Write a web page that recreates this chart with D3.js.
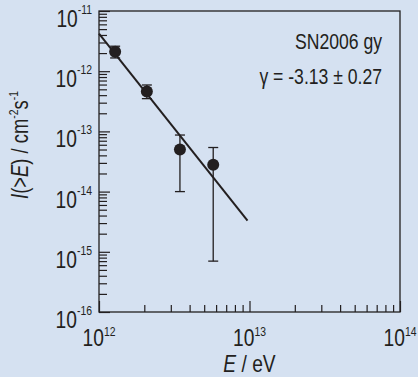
<!DOCTYPE html>
<html>
<head>
<meta charset="utf-8">
<script src="https://cdn.jsdelivr.net/npm/d3@7"></script>
<style>
  body { margin: 0; background: #d5e1f1; }
  svg { display: block; }
  text { font-family: "Liberation Sans", Arial, sans-serif; fill: #231f20; }
</style>
</head>
<body>
<div class="chart"></div>
<script>
// measured points (E in eV, integral flux I(>E) in cm^-2 s^-1)
var energy = [1.28e12, 2.08e12, 3.45e12, 5.74e12];
var flux = [2.1e-12, 4.6e-13, 5.0e-14, 2.8e-14];
var fluxLow = [1.66e-12, 3.5e-13, 1.0e-14, 7.0e-16];
var fluxHigh = [2.6e-12, 5.9e-13, 8.7e-14, 5.4e-14];

// power-law fit end points
var fitEnergy = [1e12, 9.7e12];
var fitFlux = [4.2e-12, 3.3e-15];

// tick labels (exponents of 10)
var xExponents = [12, 13, 14];
var yExponents = [-11, -12, -13, -14, -15, -16];

var annotation = ["SN2006 gy", "\u03b3 = -3.13 \u00b1 0.27"];

var svgWidth = 418;
var svgHeight = 377;

var margin = { top: 11, right: 18, bottom: 65, left: 99 };
var width = svgWidth - margin.left - margin.right;
var height = svgHeight - margin.top - margin.bottom;

// condensed look: squeeze Liberation Sans horizontally
var squeeze = 0.8;
function place(x, y) {
  return `translate(${x}, ${y}) scale(${squeeze}, 1)`;
}

var svg = d3.select(".chart")
  .append("svg")
  .attr("width", svgWidth)
  .attr("height", svgHeight);

var chartGroup = svg.append("g")
  .attr("transform", `translate(${margin.left}, ${margin.top})`);

var xScale = d3.scaleLog()
  .domain([1e12, 1e14])
  .range([0, width]);

var yScale = d3.scaleLog()
  .domain([1e-16, 1e-11])
  .range([height, 0]);

var points = energy.map((e, i) => ({ e: e, f: flux[i], lo: fluxLow[i], hi: fluxHigh[i] }));

// minor / major tick values
function minorTicks(lo, hi) {
  var out = [];
  for (var p = lo; p < hi; p++) {
    for (var m = 2; m <= 9; m++) out.push(m * Math.pow(10, p));
  }
  return out;
}
var xMajor = xExponents.map(p => Math.pow(10, p));
var yMajor = yExponents.map(p => Math.pow(10, p));

// frame
chartGroup.append("rect")
  .attr("width", width)
  .attr("height", height)
  .attr("fill", "none")
  .attr("stroke", "#231f20")
  .attr("stroke-width", 1.3);

// ticks pointing inward
function drawAxis(axis) {
  return function(g) {
    g.call(axis);
    g.select(".domain").remove();
    g.selectAll("line").attr("stroke", "#231f20").attr("stroke-width", 1.2);
    g.selectAll("text").remove();
  };
}

chartGroup.append("g")
  .attr("transform", `translate(0, ${height})`)
  .call(drawAxis(d3.axisBottom(xScale).tickValues(minorTicks(12, 14)).tickSize(-7)));
chartGroup.append("g")
  .attr("transform", `translate(0, ${height})`)
  .call(drawAxis(d3.axisBottom(xScale).tickValues(xMajor).tickSize(-11)));
chartGroup.append("g")
  .call(drawAxis(d3.axisLeft(yScale).tickValues(minorTicks(-16, -11)).tickSize(-8)));
chartGroup.append("g")
  .call(drawAxis(d3.axisLeft(yScale).tickValues(yMajor).tickSize(-11)));

// x tick labels
var xLabels = chartGroup.selectAll(".xlab")
  .data(xExponents)
  .enter()
  .append("text")
  .attr("class", "xlab")
  .attr("transform", d => place(xScale(Math.pow(10, d)), height + 34))
  .attr("text-anchor", "middle")
  .style("font-size", "24px");
xLabels.append("tspan").text("10");
xLabels.append("tspan")
  .attr("dy", -10)
  .style("font-size", "13px")
  .text(d => d);

// y tick labels
var yLabels = chartGroup.selectAll(".ylab")
  .data(yExponents)
  .enter()
  .append("text")
  .attr("class", "ylab")
  .attr("transform", d => place(-7, yScale(Math.pow(10, d)) + 16))
  .attr("text-anchor", "end")
  .style("font-size", "24px");
yLabels.append("tspan").text("10");
yLabels.append("tspan")
  .attr("dy", -13)
  .style("font-size", "13px")
  .text(d => d);

// fit line
var line = d3.line()
  .x(d => xScale(d[0]))
  .y(d => yScale(d[1]));

chartGroup.append("path")
  .datum(fitEnergy.map((e, i) => [e, fitFlux[i]]))
  .attr("d", line)
  .attr("fill", "none")
  .attr("stroke", "#231f20")
  .attr("stroke-width", 2);

// error bars
var bars = chartGroup.selectAll(".err")
  .data(points)
  .enter()
  .append("g")
  .attr("class", "err")
  .attr("stroke", "#231f20")
  .attr("stroke-width", 1.3);
bars.append("line")
  .attr("x1", d => xScale(d.e))
  .attr("x2", d => xScale(d.e))
  .attr("y1", d => yScale(d.lo))
  .attr("y2", d => yScale(d.hi));
bars.append("line")
  .attr("x1", d => xScale(d.e) - 5)
  .attr("x2", d => xScale(d.e) + 5)
  .attr("y1", d => yScale(d.lo))
  .attr("y2", d => yScale(d.lo));
bars.append("line")
  .attr("x1", d => xScale(d.e) - 5)
  .attr("x2", d => xScale(d.e) + 5)
  .attr("y1", d => yScale(d.hi))
  .attr("y2", d => yScale(d.hi));

// data points
chartGroup.selectAll("circle")
  .data(points)
  .enter()
  .append("circle")
  .attr("cx", d => xScale(d.e))
  .attr("cy", d => yScale(d.f))
  .attr("r", 6)
  .attr("fill", "#231f20");

// annotation
chartGroup.selectAll(".note")
  .data(annotation)
  .enter()
  .append("text")
  .attr("class", "note")
  .attr("transform", (d, i) => place(width - 18, 38 + i * 35))
  .attr("text-anchor", "end")
  .style("font-size", "22px")
  .text(d => d);

// axis titles
var xTitle = chartGroup.append("text")
  .attr("transform", place(width / 2, height + 60))
  .attr("text-anchor", "middle")
  .style("font-size", "24px");
xTitle.append("tspan").style("font-style", "italic").text("E");
xTitle.append("tspan").text(" / eV");

var yTitle = svg.append("text")
  .attr("transform", `translate(28, 145) rotate(-90) scale(${squeeze}, 1)`)
  .attr("text-anchor", "middle")
  .style("font-size", "23px");
yTitle.append("tspan").style("font-style", "italic").text("I");
yTitle.append("tspan").text("(>");
yTitle.append("tspan").style("font-style", "italic").text("E");
yTitle.append("tspan").text(") / cm");
yTitle.append("tspan").attr("dy", -10).style("font-size", "13px").text("-2");
yTitle.append("tspan").attr("dy", 10).text("s");
yTitle.append("tspan").attr("dy", -10).style("font-size", "13px").text("-1");
</script>
</body>
</html>
